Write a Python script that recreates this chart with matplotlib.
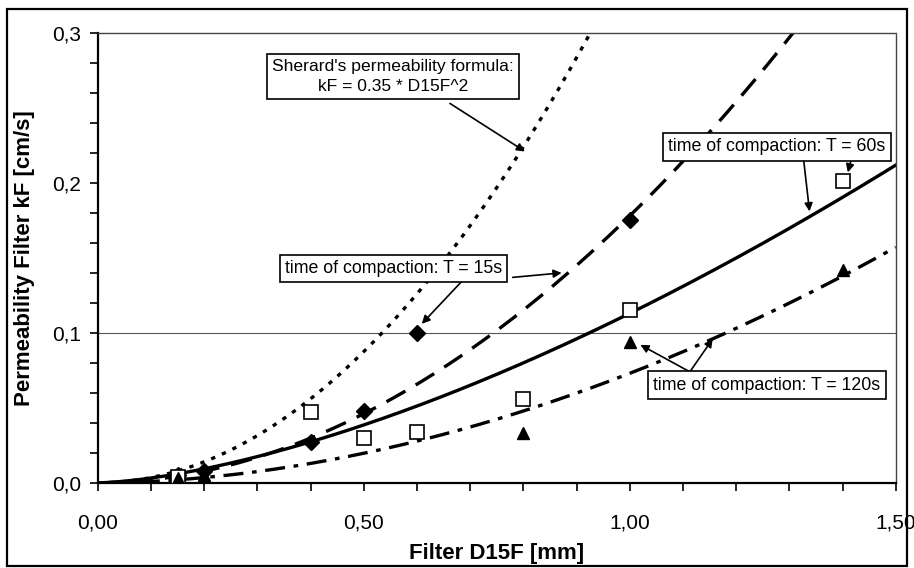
import numpy as np
import matplotlib
matplotlib.use('Agg')
import matplotlib.pyplot as plt
from matplotlib.patches import Rectangle
from matplotlib.ticker import MultipleLocator, FuncFormatter

plt.rcParams['font.family'] = ['Liberation Sans', 'DejaVu Sans']

# measured points, filter D15F [mm] vs permeability kF [cm/s]
d15_t15 = [0.15, 0.2, 0.4, 0.5, 0.6, 1.0]
kf_t15 = [0.005, 0.008, 0.027, 0.048, 0.100, 0.175]
d15_t60 = [0.15, 0.4, 0.5, 0.6, 0.8, 1.0, 1.4]
kf_t60 = [0.004, 0.047, 0.030, 0.034, 0.056, 0.115, 0.201]
d15_t120 = [0.15, 0.2, 0.8, 1.0, 1.4]
kf_t120 = [0.003, 0.005, 0.033, 0.094, 0.142]

# power trendlines kF = a * D15F^b
fit_sherard = (0.35, 2.0)
fit_t15 = (0.178, 1.95)
fit_t60 = (0.113, 1.55)
fit_t120 = (0.073, 1.89)

x_ticks = [0.0, 0.5, 1.0, 1.5]
y_ticks = [0.0, 0.1, 0.2, 0.3]


def main():
    fig = plt.figure(figsize=(9.14, 5.68), dpi=100)
    ax = fig.add_axes([0.107, 0.150, 0.873, 0.792])

    xs = np.linspace(0.0, 1.5, 300)
    lw = 2.4
    ax.plot(xs, fit_sherard[0] * xs ** fit_sherard[1], color='black', lw=lw,
            linestyle=(0, (1.3, 2.2)))
    ax.plot(xs, fit_t15[0] * xs ** fit_t15[1], color='black', lw=lw,
            linestyle=(0, (6.5, 3.6)))
    ax.plot(xs, fit_t60[0] * xs ** fit_t60[1], color='black', lw=lw)
    ax.plot(xs, fit_t120[0] * xs ** fit_t120[1], color='black', lw=lw,
            linestyle=(0, (6.0, 2.6, 1.4, 2.6)))

    ax.plot(d15_t15, kf_t15, linestyle='none', marker='D', ms=8,
            color='black', zorder=5)
    ax.plot(d15_t60, kf_t60, linestyle='none', marker='s', ms=10,
            mfc='white', mec='black', mew=1.2, zorder=5)
    ax.plot(d15_t120, kf_t120, linestyle='none', marker='^', ms=9,
            color='black', zorder=5)

    # single grid line
    ax.axhline(0.1, color='#555555', lw=0.8, zorder=1)

    ax.set_xlim(0, 1.5)
    ax.set_ylim(0, 0.3)
    ax.set_xticks(x_ticks)
    ax.set_yticks(y_ticks)
    ax.xaxis.set_minor_locator(MultipleLocator(0.1))
    ax.yaxis.set_minor_locator(MultipleLocator(0.02))
    ax.xaxis.set_major_formatter(FuncFormatter(lambda v, p: f'{v:.2f}'.replace('.', ',')))
    ax.yaxis.set_major_formatter(FuncFormatter(lambda v, p: f'{v:.1f}'.replace('.', ',')))
    ax.tick_params(which='both', direction='out', length=6, width=1.2)
    ax.tick_params(axis='x', which='major', pad=16, labelsize=15)
    ax.tick_params(axis='y', which='major', pad=6, labelsize=15)

    for side in ['left', 'bottom']:
        ax.spines[side].set_linewidth(1.6)
    for side in ['top', 'right']:
        ax.spines[side].set_linewidth(1.0)
        ax.spines[side].set_linestyle((0, (1, 1)))
        ax.spines[side].set_color('#444444')

    ax.set_xlabel('Filter D15F [mm]', fontsize=16, fontweight='bold', labelpad=8)
    ax.set_ylabel('Permeability Filter kF [cm/s]', fontsize=16, fontweight='bold',
                  labelpad=12)

    box = dict(boxstyle='square,pad=0.3', fc='white', ec='black', lw=1.2)
    arrow = dict(arrowstyle='-|>', color='black', lw=1.2, mutation_scale=12,
                 shrinkA=0, shrinkB=0)

    ax.text(0.555, 0.271, "Sherard's permeability formula:\nkF = 0.35 * D15F^2",
            fontsize=12.6, ha='center', va='center', bbox=box, zorder=6,
            linespacing=1.35)
    ax.annotate('', xy=(0.803, 0.221), xytext=(0.662, 0.253), arrowprops=arrow)

    ax.text(0.556, 0.143, 'time of compaction: T = 15s', fontsize=12.8,
            ha='center', va='center', bbox=box, zorder=6)
    ax.annotate('', xy=(0.872, 0.140), xytext=(0.780, 0.137), arrowprops=arrow)
    ax.annotate('', xy=(0.609, 0.106), xytext=(0.686, 0.135), arrowprops=arrow)

    ax.text(1.276, 0.224, 'time of compaction: T = 60s', fontsize=12.8,
            ha='center', va='center', bbox=box, zorder=6)
    ax.annotate('', xy=(1.338, 0.181), xytext=(1.327, 0.215), arrowprops=arrow)
    ax.annotate('', xy=(1.41, 0.207), xytext=(1.416, 0.215), arrowprops=arrow)

    ax.text(1.258, 0.065, 'time of compaction: T = 120s', fontsize=12.8,
            ha='center', va='center', bbox=box, zorder=6)
    ax.annotate('', xy=(1.02, 0.092), xytext=(1.113, 0.074), arrowprops=arrow)
    ax.annotate('', xy=(1.156, 0.096), xytext=(1.113, 0.074), arrowprops=arrow)

    # border round the whole picture
    fig.patches.append(Rectangle((0.008, 0.003), 0.984, 0.981, transform=fig.transFigure,
                                 fill=False, ec='black', lw=1.6))

    fig.savefig('out.png', dpi=100)


if __name__ == '__main__':
    main()
